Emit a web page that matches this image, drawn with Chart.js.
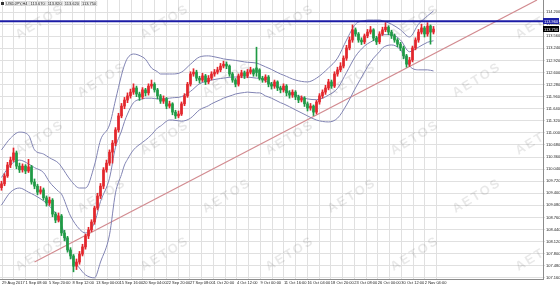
<!DOCTYPE html>
<html>
<head>
<meta charset="utf-8">
<script src="https://cdn.jsdelivr.net/npm/chart.js@4.4.1/dist/chart.umd.min.js"></script>
<style>
  html, body { margin: 0; padding: 0; background: #fff; }
</style>
</head>
<body>
<canvas id="chart" width="560" height="285"></canvas>
<script>
const symbolName = "USDJPY,H4";

// candles, left to right (one candle per ~2 bars of the original)
const opens = [
  109.55,109.65,109.86,110.15,110.28,110.47,110.12,110.02,110.12,109.99,
  110.10,109.70,109.59,109.43,109.49,109.28,109.14,109.22,108.85,108.69,
  108.80,108.35,108.22,107.90,107.74,107.47,107.58,107.79,107.98,108.27,
  108.43,108.64,109.01,109.33,109.59,110.02,110.20,110.49,110.73,111.08,
  111.45,111.71,111.87,111.98,112.08,112.19,112.03,111.95,112.14,112.06,
  112.24,112.29,112.14,111.98,111.84,111.90,111.71,111.77,111.55,111.45,
  111.50,111.77,111.98,112.29,112.56,112.61,112.45,112.40,112.51,112.35,
  112.45,112.56,112.61,112.67,112.77,112.82,112.77,112.56,112.40,112.29,
  112.51,112.59,112.51,112.61,112.67,112.72,112.67,112.45,112.40,112.48,
  112.29,112.24,112.35,112.19,112.14,112.24,112.06,112.00,112.08,111.95,
  111.87,111.92,111.77,111.66,111.71,111.55,111.82,111.98,112.08,112.19,
  112.35,112.24,112.56,112.67,112.77,112.98,113.25,113.46,113.73,113.62,
  113.46,113.41,113.57,113.67,113.73,113.51,113.41,113.62,113.73,113.80,
  113.67,113.57,113.46,113.35,113.25,113.04,112.82,112.93,113.25,113.46,
  113.67,113.78,113.62,113.83,113.67
];
const highs = [
  109.72,109.92,110.22,110.36,110.60,110.52,110.20,110.18,110.16,110.30,
  110.14,109.78,109.64,109.58,109.54,109.33,109.30,109.26,108.90,108.88,
  108.84,108.42,108.26,107.96,107.78,107.66,107.86,108.05,108.32,108.50,
  108.70,109.06,109.40,109.66,110.08,110.28,110.55,110.80,111.14,111.52,
  111.78,111.94,112.06,112.16,112.30,112.24,112.08,112.20,112.18,112.30,
  112.40,112.33,112.18,112.02,111.98,111.94,111.84,111.80,111.60,111.58,
  111.82,112.04,112.34,112.62,112.70,112.66,112.50,112.58,112.55,112.52,
  112.62,112.68,112.74,112.84,112.90,112.88,112.80,112.60,112.44,112.56,
  112.66,112.64,112.68,112.74,112.70,113.27,112.70,112.50,112.54,112.52,
  112.34,112.40,112.38,112.24,112.30,112.28,112.12,112.14,112.12,112.00,
  111.98,111.96,111.82,111.78,111.74,111.86,112.04,112.14,112.26,112.42,
  112.40,112.62,112.74,112.86,113.04,113.32,113.54,113.86,113.78,113.66,
  113.52,113.62,113.74,113.82,113.76,113.56,113.68,113.80,113.92,113.84,
  113.72,113.62,113.50,113.40,113.30,113.08,113.00,113.30,113.52,113.74,
  113.88,113.82,113.92,113.86,113.82
];
const lows = [
  109.48,109.60,109.82,110.08,110.24,110.05,109.95,109.96,109.92,109.95,
  109.64,109.52,109.36,109.38,109.22,109.06,109.08,108.78,108.62,108.64,
  108.28,108.14,107.84,107.66,107.32,107.38,107.52,107.74,107.92,108.20,
  108.38,108.58,108.96,109.26,109.52,109.96,110.14,110.20,110.66,111.02,
  111.40,111.64,111.80,111.92,112.02,111.96,111.86,111.90,111.98,112.00,
  112.18,112.08,111.90,111.78,111.78,111.64,111.66,111.48,111.38,111.40,
  111.46,111.72,111.94,112.24,112.50,112.38,112.32,112.36,112.28,112.30,
  112.40,112.50,112.56,112.62,112.72,112.70,112.50,112.34,112.22,112.24,
  112.46,112.44,112.46,112.56,112.50,112.50,112.40,112.34,112.34,112.22,
  112.16,112.18,112.12,112.06,112.08,111.98,111.92,111.94,111.88,111.80,
  111.82,111.70,111.58,111.60,111.46,111.50,111.76,111.92,112.02,112.14,
  112.18,112.20,112.50,112.62,112.72,112.92,113.20,113.40,113.56,113.40,
  113.34,113.36,113.52,113.62,113.44,113.34,113.36,113.58,113.68,113.60,
  113.50,113.40,113.28,113.18,112.96,112.74,112.76,112.88,113.20,113.40,
  113.62,113.54,113.56,113.35,113.62
];
const closes = [
  109.65,109.86,110.15,110.28,110.47,110.12,110.02,110.12,109.99,110.10,
  109.70,109.59,109.43,109.49,109.28,109.14,109.22,108.85,108.69,108.80,
  108.35,108.22,107.90,107.74,107.47,107.58,107.79,107.98,108.27,108.43,
  108.64,109.01,109.33,109.59,110.02,110.20,110.49,110.73,111.08,111.45,
  111.71,111.87,111.98,112.08,112.19,112.03,111.95,112.14,112.06,112.24,
  112.29,112.14,111.98,111.84,111.90,111.71,111.77,111.55,111.45,111.50,
  111.77,111.98,112.29,112.56,112.61,112.45,112.40,112.51,112.35,112.45,
  112.56,112.61,112.67,112.77,112.82,112.77,112.56,112.40,112.29,112.51,
  112.59,112.51,112.61,112.67,112.56,112.60,112.45,112.40,112.48,112.29,
  112.24,112.35,112.19,112.14,112.24,112.06,112.00,112.08,111.95,111.87,
  111.92,111.77,111.66,111.71,111.55,111.82,111.98,112.08,112.19,112.35,
  112.24,112.56,112.67,112.77,112.98,113.25,113.46,113.73,113.62,113.46,
  113.41,113.57,113.67,113.73,113.51,113.41,113.62,113.73,113.80,113.67,
  113.57,113.46,113.35,113.25,113.04,112.82,112.93,113.25,113.46,113.67,
  113.78,113.62,113.83,113.67,113.75
];

// bollinger bands at these candles
const bandIdx = [0,3,6,9,11,14,16,19,20,23,26,28,31,33,36,38,40,41,42,44,47,48,50,52,53,56,57,60,63,66,69,70,73,74,77,78,81,82,85,86,88,90,93,94,98,102,105,109,112,115,118,121,122,124,126,127,130,133,136,139,142,144];
const upperBand = [110.55,110.86,111.02,110.94,110.55,110.44,110.34,110.20,110.10,109.75,109.54,109.54,110.15,110.81,111.21,111.87,112.53,112.80,112.98,113.09,113.01,112.95,112.72,112.62,112.56,112.56,112.56,112.61,112.82,113.01,113.04,113.03,112.98,112.96,112.93,112.92,112.88,112.87,112.85,112.82,112.75,112.68,112.56,112.53,112.40,112.35,112.45,112.72,112.98,113.46,113.88,113.97,113.99,113.99,113.99,113.97,113.88,113.73,113.54,113.88,114.10,114.23];
const middleBand = [109.82,110.15,110.28,110.18,110.08,109.95,109.70,109.45,109.38,108.80,108.45,108.35,108.62,109.18,109.80,110.62,111.05,111.30,111.50,111.80,111.90,111.92,111.92,111.90,111.90,111.92,111.93,111.96,112.10,112.30,112.38,112.40,112.44,112.45,112.48,112.48,112.48,112.48,112.45,112.45,112.38,112.30,112.18,112.15,112.00,111.90,111.88,112.00,112.18,112.60,113.03,113.30,113.36,113.45,113.55,113.60,113.60,113.46,113.15,113.27,113.40,113.44];
const lowerBand = [109.09,109.43,109.54,109.43,109.35,109.20,109.06,108.75,108.56,107.76,107.42,107.24,107.16,107.58,108.30,109.41,109.90,110.15,110.30,110.55,110.75,110.81,110.95,111.13,111.18,111.34,111.34,111.31,111.39,111.61,111.72,111.77,111.88,111.92,112.00,112.03,112.07,112.08,112.06,112.06,111.98,111.92,111.80,111.77,111.61,111.45,111.34,111.29,111.39,111.74,112.19,112.61,112.75,112.98,113.15,113.25,113.33,113.20,112.77,112.67,112.67,112.64];

// support trend line and the horizontal resistance level
const trendIdx = [11, 178.5];
const trendPrice = [107.58, 114.52];
const levelPrice = 113.96;

const timeLabels = ["29 Aug 2017","1 Sep 08:00","5 Sep 20:00","8 Sep 12:00","13 Sep 00:00","15 Sep 16:00","20 Sep 04:00","22 Sep 20:00","27 Sep 08:00","1 Oct 20:00","4 Oct 12:00","9 Oct 00:00","11 Oct 16:00","16 Oct 04:00","18 Oct 20:00","23 Oct 08:00","26 Oct 00:00","30 Oct 12:00","2 Nov 04:00"];
const priceTicks = [107.160,107.480,107.800,108.120,108.440,108.760,109.080,109.400,109.720,110.040,110.360,110.680,111.000,111.320,111.640,111.960,112.280,112.600,112.920,113.240,113.560,113.880,114.200];

const firstLabelIdx = 0.17;
const candlesPerLabel = 7.83;

const UP = "#e3262c";
const DOWN = "#1f9a45";
const BAND = "#8083b3";
const FONT = "Liberation Sans";

const candleColors = opens.map((o, i) => closes[i] >= o ? UP : DOWN);
const bodies = opens.map((o, i) => ({ x: i, y: [Math.min(o, closes[i]), Math.max(o, closes[i])] }));
const wicks = highs.map((h, i) => ({ x: i, y: [lows[i], h] }));
const toPts = arr => bandIdx.map((x, k) => ({ x: x, y: arr[k] }));

function box(ctx, x, y, w, h, bg, fg, text) {
  ctx.fillStyle = bg;
  ctx.fillRect(x, y, w, h);
  ctx.fillStyle = fg;
  ctx.fillText(text, x + 1, y + h / 2 + 0.5);
}

const overlay = {
  id: "overlay",
  beforeDatasetsDraw(chart) {
    // broker watermark tiled over the plot
    const { ctx, chartArea: a } = chart;
    ctx.save();
    ctx.beginPath();
    ctx.rect(a.left, a.top, a.right - a.left, a.bottom - a.top);
    ctx.clip();
    ctx.font = "bold 13px " + FONT;
    ctx.fillStyle = "rgba(0,0,0,0.09)";
    ctx.textAlign = "center";
    ctx.textBaseline = "middle";
    ctx.letterSpacing = "2px";
    for (let r = 0; r < 6; r++) {
      for (let c = -1; c < 6; c++) {
        const x = 40 + c * 125 + (r % 2) * 62;
        const y = 22 + r * 58;
        ctx.save();
        ctx.translate(x, y);
        ctx.rotate(-0.55);
        ctx.fillText("AETOS", 0, 0);
        ctx.restore();
      }
    }
    ctx.restore();
  },
  afterDraw(chart) {
    const { ctx, scales } = chart;
    const y = scales.y;
    const right = chart.chartArea.right;
    ctx.save();
    ctx.font = "4px " + FONT;
    ctx.textAlign = "left";
    ctx.textBaseline = "middle";

    const yl = Math.round(y.getPixelForValue(levelPrice));
    box(ctx, right, yl - 3, 16, 6, "#1e22a8", "#fff", levelPrice.toFixed(3));
    const last = closes[closes.length - 1];
    const yc = Math.round(y.getPixelForValue(last));
    box(ctx, right, Math.max(yc - 3, yl + 4), 16, 6, "#000", "#fff", last.toFixed(3));

    // legend of the last bar
    const n = opens.length - 1;
    ctx.fillStyle = "#333";
    ctx.fillRect(1, 2, 3, 3);
    const parts = [symbolName, opens[n].toFixed(3), highs[n].toFixed(3), lows[n].toFixed(3), closes[n].toFixed(3)];
    let x = 5;
    parts.forEach(p => {
      const w = ctx.measureText(p).width + 2;
      ctx.fillStyle = "#f0f0f0";
      ctx.fillRect(x, 1, w, 5);
      ctx.strokeStyle = "#c8c8c8";
      ctx.lineWidth = 0.5;
      ctx.strokeRect(x + 0.25, 1.25, w - 0.5, 4.5);
      ctx.fillStyle = "#222";
      ctx.fillText(p, x + 1, 3.7);
      x += w + 1;
    });
    ctx.restore();
  }
};

new Chart(document.getElementById("chart"), {
  type: "bar",
  data: {
    datasets: [
      { type: "line", data: [{ x: -0.5, y: levelPrice }, { x: 180.5, y: levelPrice }], borderColor: "#1c1ca6", borderWidth: 2, pointRadius: 0, order: 0 },
      { type: "bar", data: bodies, backgroundColor: candleColors, barThickness: 2, minBarLength: 1, grouped: false, order: 1 },
      { type: "bar", data: wicks, backgroundColor: candleColors, barThickness: 1, grouped: false, order: 2 },
      { type: "line", data: toPts(upperBand), borderColor: BAND, borderWidth: 1, pointRadius: 0, cubicInterpolationMode: "monotone", order: 3 },
      { type: "line", data: toPts(middleBand), borderColor: BAND, borderWidth: 1, pointRadius: 0, cubicInterpolationMode: "monotone", order: 3 },
      { type: "line", data: toPts(lowerBand), borderColor: BAND, borderWidth: 1, pointRadius: 0, cubicInterpolationMode: "monotone", order: 3 },
      { type: "line", data: trendIdx.map((x, k) => ({ x: x, y: trendPrice[k] })), borderColor: "#d28b90", borderWidth: 1.2, pointRadius: 0, order: 4 }
    ]
  },
  options: {
    responsive: false,
    animation: false,
    devicePixelRatio: 1,
    events: [],
    layout: { padding: 0 },
    plugins: { legend: { display: false }, tooltip: { enabled: false } },
    scales: {
      x: {
        type: "linear",
        min: -0.5,
        max: 180.5,
        offset: false,
        grid: { offset: false, color: "#e0e0e0", drawTicks: false },
        border: { display: true, color: "#8c8c8c", width: 1 },
        afterBuildTicks(scale) {
          const t = [];
          for (let k = 0; k < timeLabels.length * 2; k++) t.push({ value: firstLabelIdx + k * candlesPerLabel / 2 });
          scale.ticks = t;
        },
        afterFit(scale) {
          scale.height = 6;
          scale.paddingLeft = 0;
          scale.paddingRight = 0;
        },
        ticks: {
          autoSkip: false,
          maxRotation: 0,
          align: "start",
          padding: 1,
          color: "#222",
          font: { family: FONT, size: 4 },
          callback: (v, i) => (i % 2 === 0 ? timeLabels[i / 2] : "")
        }
      },
      y: {
        type: "linear",
        position: "right",
        min: 107.13,
        max: 114.52,
        grid: { color: "#e0e0e0", tickLength: 2 },
        border: { display: true, color: "#8c8c8c", width: 1 },
        afterBuildTicks(scale) {
          scale.ticks = priceTicks.map(v => ({ value: v }));
        },
        afterFit(scale) {
          scale.width = 17;
          scale.paddingTop = 0;
          scale.paddingBottom = 0;
        },
        ticks: {
          autoSkip: false,
          padding: 1,
          color: "#222",
          font: { family: FONT, size: 4 },
          callback: v => v.toFixed(3)
        }
      }
    }
  },
  plugins: [overlay]
});
</script>
</body>
</html>
